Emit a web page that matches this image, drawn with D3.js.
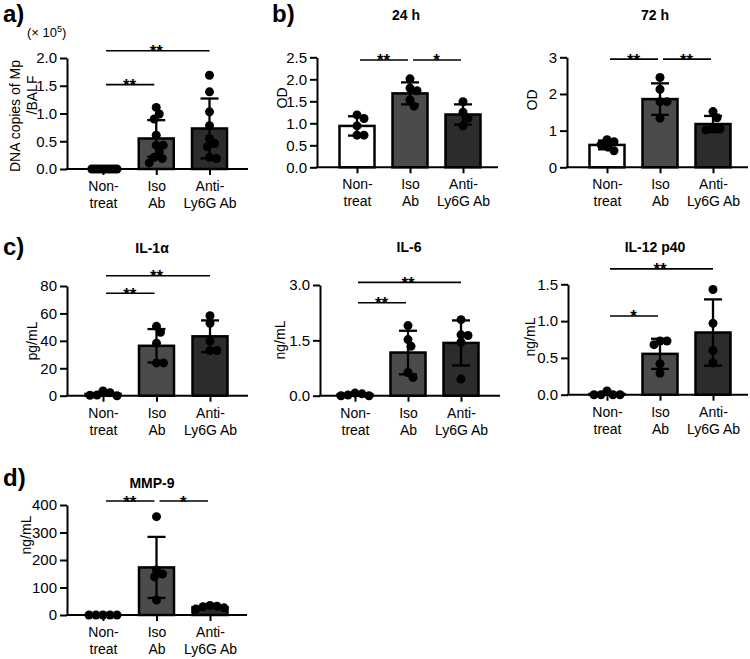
<!DOCTYPE html>
<html>
<head>
<meta charset="utf-8">
<style>
body { margin: 0; background: #fff; }
svg { display: block; font-family: Arial, "Liberation Sans", Helvetica, sans-serif; }
</style>
</head>
<body>
<svg width="750" height="659"></svg>
<script src="https://d3js.org/d3.v7.min.js"></script>
<script>

// groups shared by every panel
var groups = ["Non-treat", "Iso Ab", "Anti-Ly6G Ab"];
var groupLabels = [["Non-", "treat"], ["Iso", "Ab"], ["Anti-", "Ly6G Ab"]];
var barFills = ["#ffffff", "#4b4b4b", "#2c2c2c"];

// a) DNA copies of Mp / BALF (x 10^5)
var dnaMean = [0, 0.55, 0.73];
var dnaSD = [0, 0.33, 0.54];
var dnaPoints = [
  [0, 0, 0, 0, 0, 0, 0, 0, 0, 0],
  [1.11, 0.99, 0.90, 0.61, 0.43, 0.43, 0.31, 0.21, 0.19, 0.11],
  [1.69, 1.39, 1.03, 0.78, 0.55, 0.46, 0.40, 0.19, 0.21]
];
var dnaTicks = [0, 0.5, 1.0, 1.5, 2.0];
var dnaSig = [[0, 1, 1.52, "**"], [0, 2, 2.13, "**"]];

// b) OD 24 h
var od24Mean = [0.94, 1.68, 1.20];
var od24SD = [0.22, 0.25, 0.23];
var od24Points = [
  [1.19, 1.11, 0.94, 0.73, 0.73],
  [2.01, 1.80, 1.74, 1.53, 1.39],
  [1.49, 1.25, 1.12, 0.94]
];
var od24Ticks = [0, 0.5, 1.0, 1.5, 2.0, 2.5];
var od24Sig = [[0, 1, 2.44, "**"], [1, 2, 2.44, "*"]];

// b) OD 72 h
var od72Mean = [0.61, 1.86, 1.18];
var od72SD = [0.12, 0.43, 0.22];
var od72Points = [
  [0.75, 0.70, 0.62, 0.55, 0.45],
  [2.45, 2.13, 1.79, 1.79, 1.34],
  [1.52, 1.35, 1.08, 1.05, 1.02]
];
var od72Ticks = [0, 1, 2, 3];
var od72Sig = [[0, 1, 2.95, "**"], [1, 2, 2.95, "**"]];

// c) IL-1alpha pg/mL
var il1Mean = [1.3, 36.4, 43.3];
var il1SD = [1.5, 12.2, 11.6];
var il1Points = [
  [3.5, 0.5, 0, 0.3, 2.2],
  [50.6, 46.3, 38.3, 23.9, 23.9],
  [58.3, 52.8, 39.8, 33, 33]
];
var il1Ticks = [0, 20, 40, 60, 80];
var il1Sig = [[0, 1, 74.7, "**"], [0, 2, 87.5, "**"]];

// c) IL-6 ng/mL
var il6Mean = [0.03, 1.17, 1.43];
var il6SD = [0.03, 0.59, 0.61];
var il6Points = [
  [0.07, 0, 0, 0.02, 0.05],
  [1.90, 1.52, 1.34, 0.63, 0.49],
  [2.06, 1.65, 1.63, 1.45, 0.45]
];
var il6Ticks = [0, 1.5, 3.0];
var il6Sig = [[0, 1, 2.52, "**"], [0, 2, 3.07, "**"]];

// c) IL-12 p40 ng/mL
var il12Mean = [0.01, 0.555, 0.845];
var il12SD = [0.02, 0.205, 0.45];
var il12Points = [
  [0.05, 0, 0, 0, 0],
  [0.73, 0.73, 0.68, 0.42, 0.29],
  [1.43, 0.97, 0.60, 0.43]
];
var il12Ticks = [0, 0.5, 1.0, 1.5];
var il12Sig = [[0, 1, 1.07, "*"], [0, 2, 1.71, "**"]];

// d) MMP-9 ng/mL
var mmpMean = [0, 173, 28];
var mmpSD = [0, 111, 5];
var mmpPoints = [
  [0, 0, 0, 0, 0],
  [357.6, 163.6, 149, 139, 54.5],
  [35, 32, 30, 26, 22]
];
var mmpTicks = [0, 100, 200, 300, 400];
var mmpSig = [[0, 1, 414.5, "**"], [1, 2, 414.5, "*"]];

var svg = d3.select("svg");

// lay out the dots of a group side by side where they would overlap
function swarm(vals, y, minDist, maxHalf) {
  var order = vals.map(function(v, i) { return i; })
    .sort(function(a, b) { return vals[b] - vals[a]; });
  var placed = [], off = [];
  order.forEach(function(i) {
    var py = y(vals[i]);
    for (var k = 0; ; k++) {
      var dx = (k % 2 === 1 ? 1 : -1) * Math.ceil(k / 2);
      var ok = placed.every(function(q) { return Math.hypot(q.x - dx, q.y - py) >= minDist; });
      if (ok) { placed.push({x: dx, y: py}); off[i] = dx; break; }
    }
  });
  var m = d3.max(off, function(d) { return Math.abs(d); });
  var s = m > maxHalf ? maxHalf / m : 1;
  return off.map(function(d) { return d * s; });
}

function drawPanel(p) {
  var g = svg.append("g");
  var x = d3.scalePoint().domain(groups).range([p.c0, p.c2]);
  var y = d3.scaleLinear().domain([0, p.ticks[p.ticks.length - 1]]).range([p.y0, p.yTop]);
  var bw = 35;

  // y axis
  var ya = g.append("g")
      .attr("transform", "translate(" + p.axisX + ",0)")
      .call(d3.axisLeft(y).tickValues(p.ticks).tickFormat(d3.format(p.fmt))
        .tickSize(7).tickSizeOuter(0).tickPadding(3));
  ya.select(".domain").attr("stroke-width", 2);
  ya.selectAll(".tick line").attr("stroke-width", 2);
  ya.selectAll("text").attr("font-size", 15).attr("fill", "#000")
      .attr("font-family", "Arial, 'Liberation Sans', sans-serif");

  // x axis
  var xa = g.append("g")
      .attr("transform", "translate(0," + p.y0 + ")")
      .call(d3.axisBottom(x).tickSize(6).tickSizeOuter(0).tickFormat(""));
  xa.select(".domain").remove();
  xa.selectAll(".tick line").attr("stroke-width", 2);
  xa.append("line")
      .attr("x1", p.axisX - 1).attr("x2", p.xEnd)
      .attr("stroke", "#000").attr("stroke-width", 2);
  xa.selectAll(".tick text").remove();
  xa.selectAll(".tick").append("text")
      .attr("fill", "#000")
      .attr("font-size", 14)
      .attr("text-anchor", "middle")
      .attr("font-family", "Arial, 'Liberation Sans', sans-serif")
    .selectAll("tspan")
    .data(function(d) { return groupLabels[groups.indexOf(d)]; })
    .enter().append("tspan")
      .attr("x", 0)
      .attr("y", function(d, i) { return 22 + i * 17; })
      .text(function(d) { return d; });

  // bars
  g.append("g").selectAll("rect")
    .data(p.mean)
    .enter().append("rect")
      .attr("x", function(d, i) { return x(groups[i]) - bw / 2; })
      .attr("y", function(d) { return y(d); })
      .attr("width", bw)
      .attr("height", function(d) { return p.y0 - y(d); })
      .attr("fill", function(d, i) { return barFills[i]; })
      .attr("stroke", "#000")
      .attr("stroke-width", 2.5);

  // error bars (mean +/- SD)
  var eb = g.append("g").attr("stroke", "#000").attr("stroke-width", 2.3)
    .selectAll("g")
    .data(p.mean.map(function(m, i) { return {i: i, lo: m - p.sd[i], hi: m + p.sd[i]}; })
      .filter(function(d) { return p.sd[d.i] > 0.02 * p.ticks[p.ticks.length - 1]; }))
    .enter().append("g");
  eb.append("line")
      .attr("x1", function(d) { return x(groups[d.i]); })
      .attr("x2", function(d) { return x(groups[d.i]); })
      .attr("y1", function(d) { return y(d.lo); })
      .attr("y2", function(d) { return y(d.hi); });
  ["hi", "lo"].forEach(function(k) {
    eb.append("line")
        .attr("x1", function(d) { return x(groups[d.i]) - 9; })
        .attr("x2", function(d) { return x(groups[d.i]) + 9; })
        .attr("y1", function(d) { return y(d[k]); })
        .attr("y2", function(d) { return y(d[k]); });
  });

  // dots
  p.points.forEach(function(vals, gi) {
    var off = swarm(vals, y, 7, 14);
    g.append("g").selectAll("circle")
      .data(vals)
      .enter().append("circle")
        .attr("cx", function(d, i) { return x(groups[gi]) + off[i]; })
        .attr("cy", function(d) { return y(d); })
        .attr("r", 4.5)
        .attr("fill", "#000");
  });

  // significance lines
  var sg = g.append("g").selectAll("g")
    .data(p.sig)
    .enter().append("g");
  sg.append("line")
      .attr("x1", function(d) { return x(groups[d[0]]) + 3; })
      .attr("x2", function(d) { return x(groups[d[1]]) - (d[1] - d[0] === 1 ? 2 : 0); })
      .attr("y1", function(d) { return y(d[2]); })
      .attr("y2", function(d) { return y(d[2]); })
      .attr("stroke", "#000")
      .attr("stroke-width", 1.6);
  sg.append("text")
      .attr("x", function(d) { return (x(groups[d[0]]) + x(groups[d[1]])) / 2; })
      .attr("y", function(d) { return y(d[2]) + 6.5; })
      .attr("text-anchor", "middle")
      .attr("font-size", 17)
      .attr("font-weight", "bold")
      .text(function(d) { return d[3]; });

  // y label (one or two lines)
  p.ylab.forEach(function(l) {
    g.append("text")
        .attr("transform", "translate(" + l[1] + "," + l[2] + ") rotate(-90)")
        .attr("text-anchor", "middle")
        .attr("dy", "0.36em")
        .attr("font-size", 14)
        .text(l[0]);
  });

  if (p.title) {
    g.append("text")
        .attr("x", p.title[1]).attr("y", p.title[2])
        .attr("text-anchor", "middle")
        .attr("font-size", 14)
        .attr("font-weight", "bold")
        .text(p.title[0]);
  }
}

drawPanel({axisX: 67, xEnd: 248, y0: 169, yTop: 58, c0: 103, c2: 209.5, fmt: ".1f",
  ticks: dnaTicks, mean: dnaMean, sd: dnaSD, points: dnaPoints, sig: dnaSig,
  ylab: [["DNA copies of Mp", 15, 116], ["/BALF", 32, 95]]});

drawPanel({axisX: 317, xEnd: 498, y0: 167.3, yTop: 57.3, c0: 357, c2: 463, fmt: ".1f",
  ticks: od24Ticks, mean: od24Mean, sd: od24SD, points: od24Points, sig: od24Sig,
  ylab: [["OD", 282, 98]], title: ["24 h", 406, 20]});

drawPanel({axisX: 567, xEnd: 748, y0: 167.3, yTop: 57.3, c0: 607, c2: 713, fmt: "d",
  ticks: od72Ticks, mean: od72Mean, sd: od72SD, points: od72Points, sig: od72Sig,
  ylab: [["OD", 532, 100]], title: ["72 h", 655, 20]});

drawPanel({axisX: 67, xEnd: 248, y0: 395.7, yTop: 286, c0: 103, c2: 210, fmt: "d",
  ticks: il1Ticks, mean: il1Mean, sd: il1SD, points: il1Points, sig: il1Sig,
  ylab: [["pg/mL", 32, 341]], title: ["IL-1\u03b1", 152, 253]});

drawPanel({axisX: 320, xEnd: 500, y0: 395.7, yTop: 285, c0: 355, c2: 461, fmt: ".1f",
  ticks: il6Ticks, mean: il6Mean, sd: il6SD, points: il6Points, sig: il6Sig,
  ylab: [["ng/mL", 280, 340]], title: ["IL-6", 409, 252]});

drawPanel({axisX: 568, xEnd: 748, y0: 394.7, yTop: 284.3, c0: 607, c2: 713, fmt: ".1f",
  ticks: il12Ticks, mean: il12Mean, sd: il12SD, points: il12Points, sig: il12Sig,
  ylab: [["ng/mL", 530, 337]], title: ["IL-12 p40", 655, 252]});

drawPanel({axisX: 67, xEnd: 247, y0: 615, yTop: 505, c0: 103, c2: 210, fmt: "d",
  ticks: mmpTicks, mean: mmpMean, sd: mmpSD, points: mmpPoints, sig: mmpSig,
  ylab: [["ng/mL", 26, 535]], title: ["MMP-9", 152, 488]});

// exponent note for panel a
var ex = svg.append("text").attr("x", 27).attr("y", 37).attr("font-size", 13);
ex.append("tspan").text("(\u00d7 10");
ex.append("tspan").attr("dy", -5).attr("font-size", 9).text("5");
ex.append("tspan").attr("dy", 5).text(")");

// panel letters
svg.append("g")
    .attr("font-size", 24)
    .attr("font-weight", "bold")
  .selectAll("text")
  .data([["a)", 3, 22], ["b)", 272, 22], ["c)", 3, 255], ["d)", 3, 486]])
  .enter().append("text")
    .attr("x", function(d) { return d[1]; })
    .attr("y", function(d) { return d[2]; })
    .text(function(d) { return d[0]; });

</script>
</body>
</html>
